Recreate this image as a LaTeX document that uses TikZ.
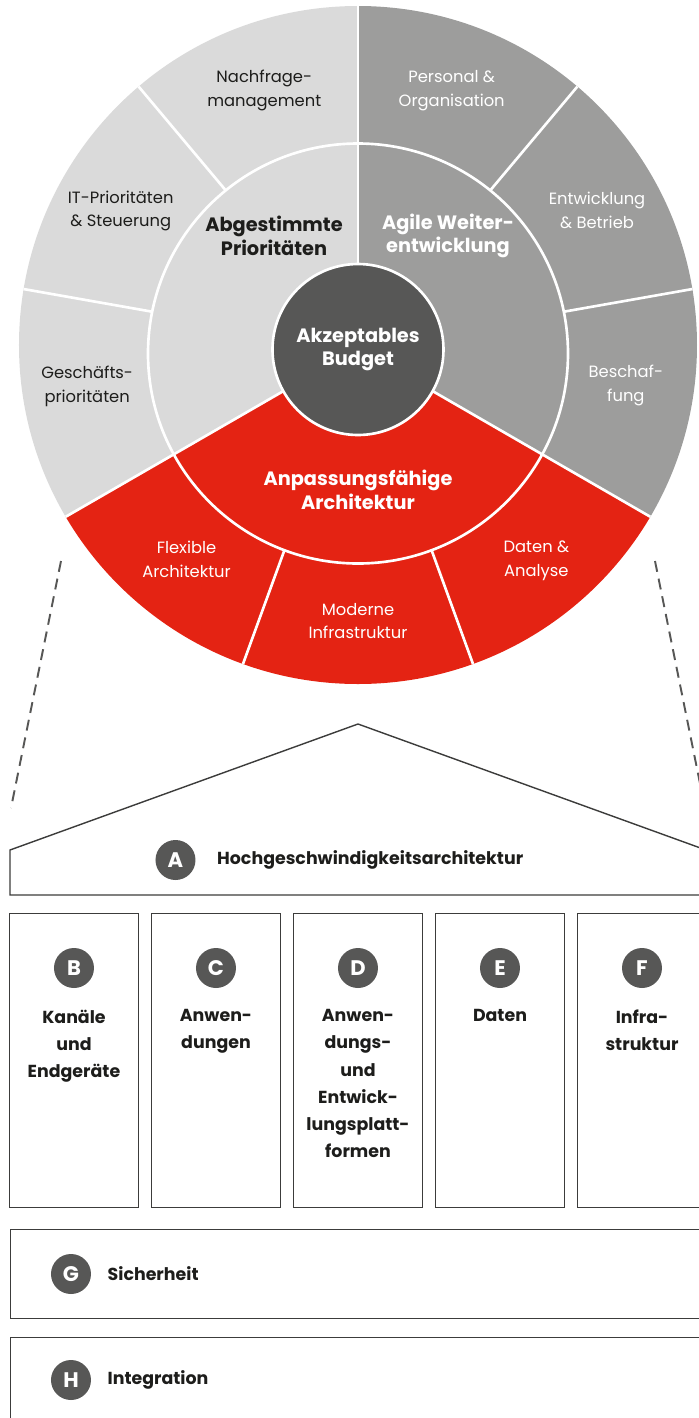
\documentclass[tikz,border=0pt]{standalone}
\usepackage{fontspec}
\setmainfont{Poppins}
\usepackage{tikz}
\usetikzlibrary{positioning,calc}
\definecolor{archlight}{HTML}{DADADA}
\definecolor{archgray}{HTML}{9D9D9C}
\definecolor{archred}{HTML}{E42313}
\definecolor{archdark}{HTML}{575756}
\definecolor{archline}{HTML}{3C3C3B}
\definecolor{archink}{HTML}{1D1D1B}

\begin{document}
\begin{tikzpicture}[
    x=1cm,y=1cm,
    seg/.style    = {font=\fontsize{9.3}{13.6}\selectfont,align=center,text=archink,inner sep=0pt},
    segw/.style   = {seg,text=white},
    kern/.style   = {font=\bfseries\fontsize{11}{13.5}\selectfont,align=center,text=archink,inner sep=0pt},
    kernw/.style  = {kern,text=white},
    trenn/.style  = {white,line width=1.5pt},
    bau/.style    = {draw=archline,line width=0.8pt},
    saeule/.style = {bau,rectangle,minimum width=2.58cm,minimum height=5.88cm,anchor=north,inner sep=0pt},
    balken/.style = {bau,rectangle,minimum width=14.4cm,anchor=north west,inner sep=0pt},
    lbl/.style    = {font=\bfseries\fontsize{9.9}{15.4}\selectfont,align=center,text=archink,inner sep=0pt},
    buch/.style   = {circle,fill=archdark,text=white,font=\bfseries\fontsize{12}{12}\selectfont,
                     minimum size=0.8cm,inner sep=0pt},
    lupe/.style   = {archdark,line width=1.1pt,dash pattern=on 0.22cm off 0.14cm},
  ]
  \useasboundingbox (-7.16,-21.4) rectangle (6.82,6.96);

  % Rad: Aussenring, Mittelring, Kern
  \begin{scope}
    \clip (0,0.06) circle (6.78);
    \fill[archgray]  (0,0) -- (-30:8) arc (-30:90:8) -- cycle;
    \fill[archlight] (0,0) -- (90:8) arc (90:210:8) -- cycle;
    \fill[archred]   (0,0) -- (210:8) arc (210:330:8) -- cycle;
    \draw[trenn] (0,0) -- (10:8);
    \draw[trenn] (0,0) -- (50:8);
    \draw[trenn] (0,0) -- (130:8);
    \draw[trenn] (0,0) -- (170:8);
    \draw[trenn] (0,0) -- (250:8);
    \draw[trenn] (0,0) -- (290:8);
    \begin{scope}
      \clip (0,-0.11) circle (4.2);
      \fill[archgray]  (0,0) -- (-30:5) arc (-30:90:5) -- cycle;
      \fill[archlight] (0,0) -- (90:5) arc (90:210:5) -- cycle;
      \fill[archred]   (0,0) -- (210:5) arc (210:330:5) -- cycle;
    \end{scope}
    \draw[trenn] (0,-0.11) circle (4.2);
    \draw[trenn] (0,0) -- (90:8);
    \draw[trenn] (0,0) -- (210:8);
    \draw[trenn] (0,0) -- (330:8);
  \end{scope}
  \node[circle,fill=archdark,draw=white,line width=1.5pt,minimum size=3.42cm,
        inner sep=0pt,kernw] (budget) at (0,-0.03) {Akzeptables\\ Budget};

  % Segmente aussen
  \node[seg]  (nachfrage) at (110:5.48) {Nachfrage-\\ management};
  \node[seg]  (itprio)    at (150:5.48) {IT-Prioritäten\\ \& Steuerung};
  \node[seg]  (geschaeft) at (188:5.47) {Geschäfts-\\ prioritäten};
  \node[segw] (personal)  at (70:5.48)  {Personal \&\\ Organisation};
  \node[segw] (entwickl)  at (30:5.52)  {Entwicklung\\ \& Betrieb};
  \node[segw] (beschaff)  at (352:5.41) {Beschaf-\\ fung};
  \node[segw] (flexibel)  at (231:5.45) {Flexible\\ Architektur};
  \node[segw] (modern)    at (270:5.46) {Moderne\\ Infrastruktur};
  \node[segw] (daten)     at (310:5.55) {Daten \&\\ Analyse};

  % Segmente innen
  \node[kern]  (abgest)  at (-1.68,2.24) {Abgestimmte\\ Prioritäten};
  \node[kernw] (agil)    at (1.8,2.24)   {Agile Weiter-\\ entwicklung};
  \node[kernw] (anpass)  at (0,-2.84)    {Anpassungsfähige\\ Architektur};

  % Lupenlinien
  \coordinate (lupeL1) at (-5.94,-4.26);
  \coordinate (lupeL2) at (-6.94,-9.2);
  \coordinate (lupeR1) at (5.94,-4.26);
  \coordinate (lupeR2) at (6.94,-9.2);
  \draw[lupe] (lupeL1) -- (lupeL2);
  \draw[lupe] (lupeR1) -- (lupeR2);

  % Dach
  \coordinate (first) at (0,-7.52);
  \draw[bau] (-6.96,-10.94) -- (-6.96,-10.04) -- (first) -- (6.96,-10.04) -- (6.96,-10.94) -- cycle;
  \node[buch] (tagA) at (-3.65,-10.24) {A};
  \node[lbl,right=0.42cm of tagA] (hochgesch) {Hochgeschwindigkeitsarchitektur};

  % Saeulen
  \node[saeule] (colB) at (-5.68,-11.3) {};
  \node[saeule] (colC) at (-2.84,-11.3) {};
  \node[saeule] (colD) at (0,-11.3)     {};
  \node[saeule] (colE) at (2.84,-11.3)  {};
  \node[saeule] (colF) at (5.68,-11.3)  {};
  \node[buch] (tagB) at (-5.68,-12.4) {B};
  \node[buch] (tagC) at (-2.84,-12.4) {C};
  \node[buch] (tagD) at (0,-12.4)     {D};
  \node[buch] (tagE) at (2.84,-12.4)  {E};
  \node[buch] (tagF) at (5.68,-12.4)  {F};
  \node[lbl,below=0.42cm of tagB] (kanal)  {Kanäle\\ und\\ Endgeräte};
  \node[lbl,below=0.42cm of tagC] (anwend) {Anwen-\\ dungen};
  \node[lbl,below=0.42cm of tagD] (plattf) {Anwen-\\ dungs-\\ und\\ Entwick-\\ lungsplatt-\\ formen};
  \node[lbl,below=0.42cm of tagE] (datenE) {Daten};
  \node[lbl,below=0.42cm of tagF] (infra)  {Infra-\\ struktur};

  % Fundament
  \node[balken,minimum height=1.77cm] (sicher) at (-6.96,-17.62) {};
  \node[balken,minimum height=2.0cm]  (integr) at (-6.96,-19.77) {};
  \node[buch] (tagG) at (-5.74,-18.52) {G};
  \node[buch] (tagH) at (-5.74,-20.64) {H};
  \node[lbl,right=0.32cm of tagG] (sicherT) {Sicherheit};
  \node[lbl,right=0.32cm of tagH] (integrT) {Integration};

\end{tikzpicture}
\end{document}
